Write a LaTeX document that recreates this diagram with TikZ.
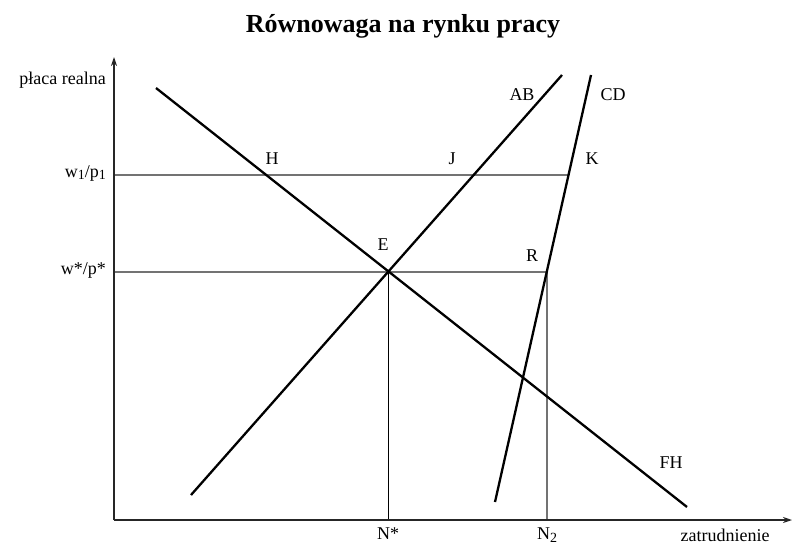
\documentclass[tikz,border=0pt]{standalone}
\usepackage{fontspec}
\setmainfont{Liberation Serif}
\usetikzlibrary{arrows.meta}
\newcommand{\mysub}[1]{\raisebox{-0.35ex}{\fontsize{14}{16}\selectfont #1}}
\begin{document}
\begin{tikzpicture}[x=1pt,y=-1pt,
  curve/.style={line width=2.3pt,black},
  axisline/.style={line width=1.2pt,black!85,-{Stealth[length=9pt,width=6pt]}},
  guide/.style={line width=1.4pt,black!55},
  guideblack/.style={line width=1pt,black},
  lbl/.style={font=\fontsize{18}{20}\selectfont,inner sep=0pt},
  ttl/.style={font=\fontsize{26}{30}\selectfont\bfseries,inner sep=0pt}]
\useasboundingbox (0,0) rectangle (793,546);
% coordinates
\coordinate (O) at (114,520);
\coordinate (Ytop) at (114,57);
\coordinate (Xend) at (792,520);
\coordinate (FH1) at (156,88);
\coordinate (FH2) at (687,507);
\coordinate (AB1) at (191,495);
\coordinate (AB2) at (562,75);
\coordinate (CD1) at (495,502);
\coordinate (CD2) at (591,75);
\coordinate (E) at (388,272);
\coordinate (W1) at (114,175);
\coordinate (K) at (568.5,175);
\coordinate (WS) at (114,272);
\coordinate (R) at (547,272);
\coordinate (Nstar) at (388,520);
\coordinate (Ntwo) at (547,520);
% title
\node[ttl] (title) at (403,26) {Równowaga na rynku pracy};
% guides
\draw[guide] (W1) -- (K);
\draw[guide] (WS) -- (R);
\draw[guideblack] (E) -- (Nstar);
\draw[guide] (R) -- (Ntwo);
% axes
\draw[axisline] (O) -- (Ytop);
\draw[axisline] (O) -- (Xend);
% curves
\draw[curve] (FH1) -- (FH2);
\draw[curve] (AB1) -- (AB2);
\draw[curve] (CD1) -- (CD2);
% labels
\node[lbl,anchor=east] (yl) at (106,80) {płaca realna};
\node[lbl,anchor=east] (w1) at (106,173) {w\mysub{1}/p\mysub{1}};
\node[lbl,anchor=east] (ws) at (106,270) {w*/p*};
\node[lbl] (H) at (272,159) {H};
\node[lbl] (J) at (452,159) {J};
\node[lbl] (Kl) at (592,159) {K};
\node[lbl] (El) at (383,245) {E};
\node[lbl] (Rl) at (532,256) {R};
\node[lbl] (ABl) at (522,95) {AB};
\node[lbl] (CDl) at (613,95) {CD};
\node[lbl] (FHl) at (671,463) {FH};
\node[lbl,anchor=north] (Nsl) at (388,528) {N*};
\node[lbl,anchor=north] (N2l) at (547,528) {N\mysub{2}};
\node[lbl,anchor=north] (xl) at (725,529) {zatrudnienie};
\end{tikzpicture}
\end{document}
